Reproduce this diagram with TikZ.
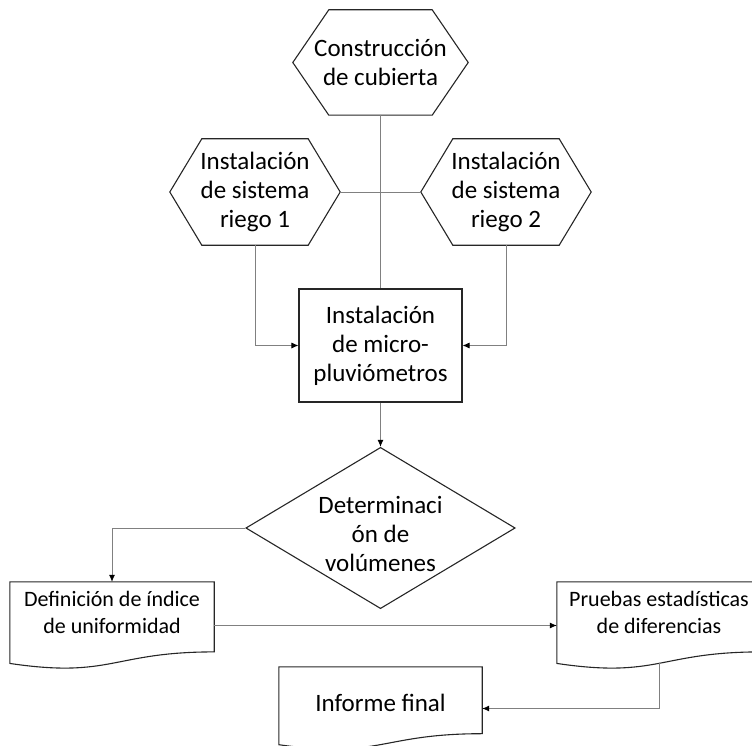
\documentclass[tikz,border=0pt]{standalone}
\usepackage{fontspec}
\setmainfont{Carlito}
\usetikzlibrary{shapes.geometric, arrows.meta, calc}

\newcommand{\bigfont}{\fontsize{25}{29}\selectfont}
\newcommand{\smallfont}{\fontsize{22}{27}\selectfont}
% text lines lifted inside a node without changing its size
\newcommand{\liftlines}[2]{\raisebox{#1}[\height][\depth]{\begin{tabular}{@{}c@{}}#2\end{tabular}}}

\tikzstyle{outline} = [draw=black!85, line width=1.1pt]
\tikzstyle{hexbox} = [rectangle, minimum width=170pt, minimum height=106pt, inner sep=0pt, align=center, font=\bigfont]
\tikzstyle{process} = [rectangle, outline, minimum width=163pt, minimum height=113pt, align=center, font=\bigfont]
\tikzstyle{decision} = [diamond, outline, aspect=1.67, minimum width=267pt, minimum height=160pt, inner sep=0pt, align=center, font=\bigfont]
\tikzstyle{docbox} = [rectangle, minimum width=204pt, minimum height=87pt, inner sep=0pt, align=center, font=\smallfont]
\tikzstyle{line} = [gray, line width=0.8pt]
\tikzstyle{arrow} = [line, -{Latex[black, length=7pt, width=6pt]}]

\newcommand{\hexoutline}[2]{%
  \draw[outline] (#1.west) -- ([xshift=#2]#1.north west) -- ([xshift=-#2]#1.north east)
    -- (#1.east) -- ([xshift=-#2]#1.south east) -- ([xshift=#2]#1.south west) -- cycle;}
\newcommand{\docoutline}[1]{%
  \draw[outline] ($(#1.north west)!0.934!(#1.south west)$) -- (#1.north west) -- (#1.north east)
    -- ($(#1.north east)!0.802!(#1.south east)$)
    .. controls ($(#1.north)!0.802!(#1.south)$) and ($(#1.north)!1.1075!(#1.south)$)
    .. ($(#1.north west)!0.934!(#1.south west)$) -- cycle;}

\begin{document}
\begin{tikzpicture}[x=1pt, y=-1pt]
    \useasboundingbox (0,0) rectangle (752,746);

    % Montaje
    \node (cubierta) [hexbox, minimum width=175pt, minimum height=105pt] at (380.5,62.5) {Construcción\\de cubierta};
    \node (riego1) [hexbox] at (255,192) {Instalación\\de sistema\\riego 1};
    \node (riego2) [hexbox] at (506,192) {Instalación\\de sistema\\riego 2};
    \hexoutline{cubierta}{36pt}
    \hexoutline{riego1}{32pt}
    \hexoutline{riego2}{32pt}

    \node (micro) [process] at (380.5,345.5) {Instalación\\de micro-\\pluviómetros};
    \node (volumenes) [decision] at (380.5,528) {\liftlines{-9pt}{Determinaci\\ón de\\volúmenes}};

    % Resultados
    \node (indice) [docbox] at (112,625.5) {\liftlines{11pt}{Definición de índice\\de uniformidad}};
    \node (pruebas) [docbox] at (659,625.5) {\liftlines{11pt}{Pruebas estadísticas\\de diferencias}};
    \node (informe) [docbox, minimum width=203pt, minimum height=83pt, font=\bigfont] at (380.5,708.5) {\liftlines{3pt}{Informe final}};
    \docoutline{indice}
    \docoutline{pruebas}
    \docoutline{informe}

    % Conexiones
    \draw [line] (cubierta) -- (micro);
    \draw [line] (riego1.east) -- (riego2.west);
    \draw [arrow] (riego1.south) |- (micro.west);
    \draw [arrow] (riego2.south) |- (micro.east);
    \draw [arrow] (micro) -- (volumenes);
    \draw [arrow] (volumenes.west) -| (indice.north);
    \draw [arrow] (indice.east) -- (pruebas.west);
    \draw [arrow] ($(pruebas.north)!0.933!(pruebas.south)$) |- (informe.east);

\end{tikzpicture}
\end{document}
